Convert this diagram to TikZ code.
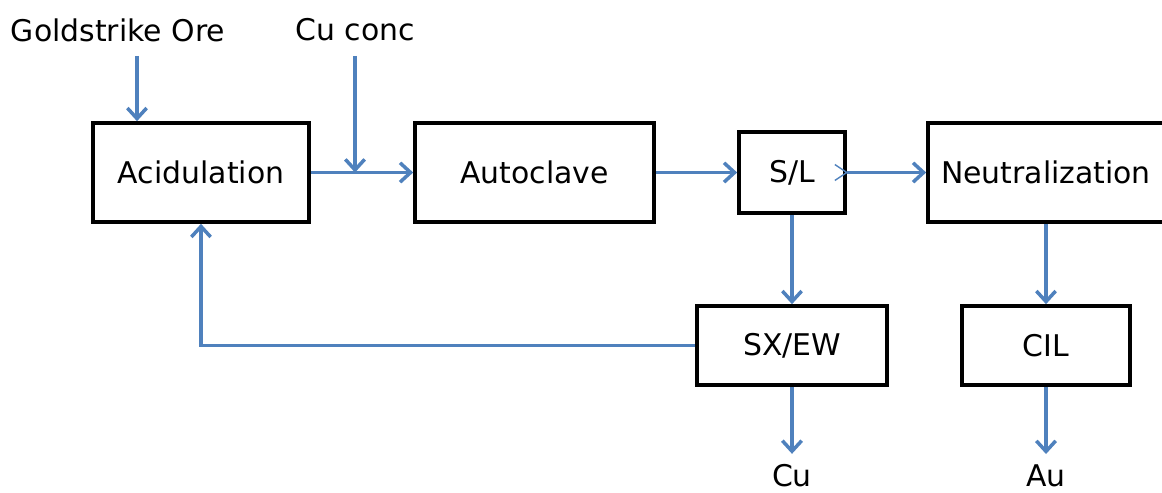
\documentclass[tikz,border=0pt]{standalone}
\usepackage{fontspec}
\setmainfont{DejaVu Sans}
\usetikzlibrary{arrows.meta}
\definecolor{flowblue}{RGB}{79,129,189}

\begin{document}
\begin{tikzpicture}[x=0.02cm,y=-0.02cm]
    \tikzstyle{unit}=[draw,line width=2.1pt,inner sep=0pt,font=\fontsize{17}{20}\selectfont]
    \tikzstyle{label}=[inner sep=2pt,font=\fontsize{17}{20}\selectfont]
    \tikzstyle{flow}=[draw=flowblue,line width=2pt,-{Straight Barb[length=6pt,width=11pt]}]
    \useasboundingbox (0,0) rectangle (1162,493);
    \node[unit,minimum width=4.32cm,minimum height=1.98cm] (acid) at (201,172.5) {Acidulation};
    \node[unit,minimum width=4.78cm,minimum height=1.98cm] (auto) at (534.5,172.5) {Autoclave};
    \node[unit,minimum width=2.12cm,minimum height=1.62cm] (sl) at (792,172.5) {S/L};
    \node[unit,minimum width=4.72cm,minimum height=1.98cm] (neut) at (1046,172.5) {Neutralization};
    \node[unit,minimum width=3.80cm,minimum height=1.58cm] (sxew) at (792,345.5) {SX/EW};
    \node[unit,minimum width=3.36cm,minimum height=1.58cm] (cil) at (1046,345.5) {CIL};
    \node[label] (ore) at (118,30) {Goldstrike Ore};
    \node[label] (conc) at (355,30) {Cu conc};
    \node[label] (cu) at (792,476) {Cu};
    \node[label] (au) at (1046,476) {Au};
    \coordinate (orein) at (137,56);
    \coordinate (concin) at (355,56);
    \coordinate (join) at (355,172.5);
    % feeds
    \draw[flow] (orein) -- (orein |- acid.north);
    \draw[flow] (concin) -- (join);
    \draw[flow] (acid.east) -- (auto.west);
    \draw[flow] (auto.east) -- (sl.west);
    \draw[flow] (sl.east) -- (neut.west);
    \draw[flowblue,line width=0.8pt] ([xshift=-0.24cm,yshift=0.16cm]sl.east) -- (sl.east) -- ([xshift=-0.24cm,yshift=-0.16cm]sl.east);
    % copper circuit
    \draw[flow] (sl.south) -- (sxew.north);
    \draw[flow] (sxew.west) -| (acid.south);
    \draw[flow,shorten >=4pt] (sxew.south) -- (cu.north);
    % gold circuit
    \draw[flow] (neut.south) -- (cil.north);
    \draw[flow,shorten >=4pt] (cil.south) -- (au.north);
\end{tikzpicture}
\end{document}
